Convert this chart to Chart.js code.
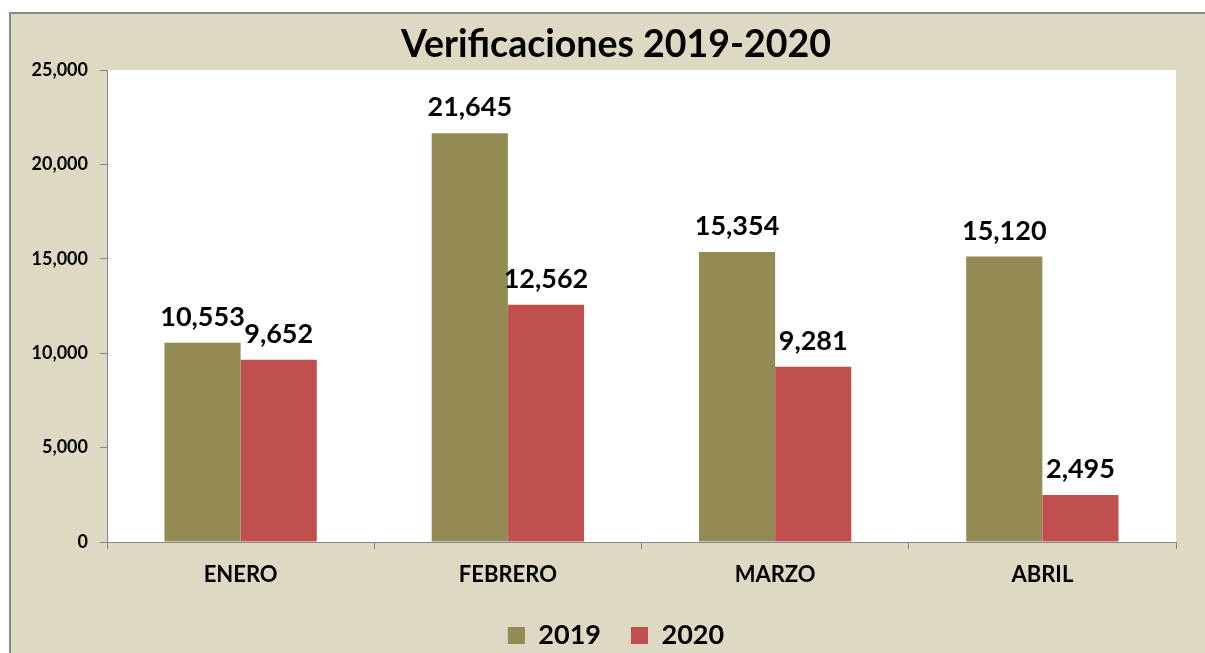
<!DOCTYPE html>
<html>
<head>
<meta charset="utf-8">
<script src="https://cdn.jsdelivr.net/npm/chart.js@4.4.1/dist/chart.umd.min.js"></script>
<style>
  html, body { margin: 0; padding: 0; background: #fff; overflow: hidden; }
  #wrap {
    position: absolute; left: 9px; top: 12px;
    width: 1210px; height: 645px;
    background: #DDD9C3;
    border-top: 2px solid #888;
    border-left: 2px solid #888;
  }
</style>
</head>
<body>
<div id="wrap"><canvas id="graph" width="1210" height="645"></canvas></div>
<script>
// datos por mes
const categories = ['ENERO', 'FEBRERO', 'MARZO', 'ABRIL'];
const values2019 = [10553, 21645, 15354, 15120];
const values2020 = [9652, 12562, 9281, 2495];
const yMax = 25000;
const yStep = 5000;

const FONT = 'Lato, "Open Sans", sans-serif';
const fmt = v => v.toLocaleString('en-US');

// fondo blanco del area de trazado
const plotBg = {
    id: 'plotBg',
    beforeDraw(chart) {
        const { ctx, chartArea: a } = chart;
        ctx.save();
        ctx.fillStyle = '#fff';
        ctx.fillRect(a.left, a.top, a.right - a.left, a.bottom - a.top);
        ctx.restore();
    }
};

// etiquetas de valor encima de cada barra
const valueLabels = {
    id: 'valueLabels',
    afterDatasetsDraw(chart) {
        const ctx = chart.ctx;
        ctx.save();
        ctx.font = 'bold 27px ' + FONT;
        ctx.fillStyle = '#000';
        ctx.textAlign = 'center';
        ctx.textBaseline = 'alphabetic';
        chart.data.datasets.forEach((ds, i) => {
            chart.getDatasetMeta(i).data.forEach((bar, j) => {
                ctx.fillText(fmt(ds.data[j]), bar.x, bar.y - 17);
            });
        });
        ctx.restore();
    }
};

let graph = document.getElementById('graph').getContext('2d');

new Chart(graph, {
    type: 'bar',
    data: {
        labels: categories,
        datasets: [
            { label: '2019', data: values2019, backgroundColor: '#948A54', yAxisID: 'y' },
            { label: '2020', data: values2020, backgroundColor: '#C0504D', yAxisID: 'y' }
        ]
    },
    options: {
        responsive: false,
        animation: false,
        layout: { padding: 0 },
        datasets: { bar: { categoryPercentage: 0.57, barPercentage: 1.0 } },
        scales: {
            x: {
                grid: { drawOnChartArea: false, color: '#868686', tickLength: 7 },
                border: { color: '#868686' },
                ticks: { color: '#000', padding: 13, font: { family: FONT, size: 22, weight: 'bold' } },
                afterFit(scale) { scale.height = 50; }
            },
            y: {
                min: 0,
                max: yMax,
                grid: { drawOnChartArea: false, color: '#868686', tickLength: 7 },
                border: { color: '#868686' },
                ticks: {
                    stepSize: yStep,
                    color: '#000',
                    padding: 12,
                    font: { family: FONT, size: 18, weight: 'bold' },
                    callback: v => fmt(v)
                },
                afterFit(scale) { scale.width = 96; }
            },
            // margen derecho vacio
            yRight: {
                position: 'right',
                grid: { display: false },
                border: { display: false },
                ticks: { display: false },
                afterFit(scale) { scale.width = 45; }
            }
        },
        plugins: {
            title: {
                display: true,
                text: 'Verificaciones 2019-2020',
                color: '#000',
                font: { family: FONT, size: 37.5, weight: 'bold' },
                padding: { top: 8, bottom: 3 }
            },
            legend: {
                position: 'bottom',
                labels: {
                    color: '#000',
                    boxWidth: 17,
                    boxHeight: 17,
                    padding: 30,
                    font: { family: FONT, size: 27, weight: 'bold' }
                }
            },
            tooltip: { enabled: false }
        }
    },
    plugins: [plotBg, valueLabels]
});
</script>
</body>
</html>
